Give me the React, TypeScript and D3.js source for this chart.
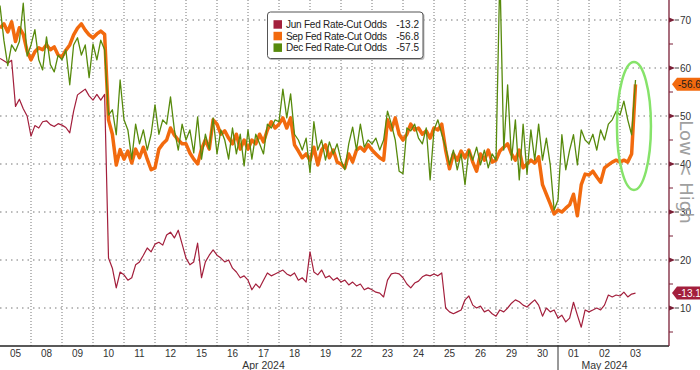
import React from 'react';
import * as d3 from 'd3';

const dayLabels = ['05', '08', '09', '10', '11', '12', '15', '16', '17', '18', '19', '22', '23', '24', '25', '26', '29', '30', '01', '02', '03'];
const monthLabels = ['Apr 2024', 'May 2024'];
const monthFirstDay = [0, 18];
const monthLastDay = [17, 21];
const stepsPerDay = 8;

const junValues = [
  62.0, 61.5, 61.0, 61.6, 52.0, 53.5, 51.5, 50.0,
  45.8, 48.0, 47.5, 48.8, 49.0, 48.2, 47.8, 48.4,
  48.1, 47.6, 46.5, 51.0, 54.4, 55.0, 55.6, 54.2,
  53.3, 54.5, 53.3, 54.5, 20.4, 18.3, 14.2, 17.5,
  16.9, 15.8, 16.3, 19.0, 19.6, 21.0, 22.5, 21.7,
  23.3, 23.7, 23.1, 25.2, 25.8, 24.6, 26.2, 23.3,
  20.4, 19.0, 19.6, 23.5, 16.3, 19.6, 21.0, 22.1,
  21.0, 20.4, 19.6, 20.0, 18.3, 17.5, 16.3, 16.7,
  15.8, 13.8, 15.0, 14.2, 15.8, 17.3, 16.7, 17.1,
  17.5, 17.9, 17.1, 16.7, 17.3, 15.8, 16.3, 15.4,
  21.7, 17.5, 16.9, 17.9, 16.3, 16.7, 15.8, 16.3,
  15.4, 15.8, 14.8, 15.4, 14.6, 15.0, 13.8, 14.2,
  13.8, 13.3, 13.1, 12.3, 15.8, 17.1, 17.3, 17.1,
  16.3, 15.0, 14.2, 15.2, 15.6, 16.5, 16.9, 16.7,
  17.1, 16.7, 17.3, 10.0, 9.2, 8.8, 9.2, 9.6,
  11.7, 12.5, 10.6, 10.0, 10.4, 9.2, 9.6, 8.8,
  8.3, 9.6, 9.2, 10.0, 11.0, 11.7, 11.3, 10.6,
  10.2, 11.0, 11.7, 10.6, 8.3, 10.0, 9.2, 9.6,
  7.9, 8.5, 7.1, 7.9, 11.2, 8.5, 6.0, 9.6,
  9.2, 9.6, 10.0, 9.6, 10.6, 12.7, 12.3, 12.7,
  12.5, 13.3, 12.3, 12.9, 13.1,
];

const sepValues = [
  68.3, 69.2, 67.5, 69.6, 65.5, 68.4, 67.0, 63.5,
  61.7, 63.4, 64.2, 63.8, 64.8, 63.8, 64.4, 62.7,
  62.3, 63.7, 64.8, 66.9, 68.3, 69.2, 67.9, 66.9,
  66.3, 67.1, 67.7, 67.0, 49.2, 46.2, 39.8, 43.0,
  41.0, 42.7, 40.2, 43.1, 41.3, 43.5, 41.0, 38.8,
  39.2, 43.1, 44.2, 45.0, 47.5, 46.0, 45.0, 44.2,
  44.2, 42.3, 41.0, 40.0, 43.1, 45.0, 43.1, 49.2,
  48.3, 46.2, 46.9, 45.4, 44.2, 46.2, 43.1, 45.0,
  43.1, 45.0, 44.2, 46.2, 44.6, 47.1, 48.8, 47.5,
  48.3, 49.6, 47.5, 49.6, 44.0, 42.7, 41.3, 42.1,
  40.8, 43.5, 39.8, 42.9, 44.0, 41.3, 42.9, 40.4,
  40.0, 39.2, 42.1, 40.4, 42.9, 43.5, 42.7, 44.0,
  42.9, 42.1, 41.3, 40.8, 49.2, 47.1, 49.6, 46.2,
  45.0, 46.2, 48.3, 47.1, 47.5, 46.2, 46.9, 45.4,
  47.5, 47.1, 48.3, 42.9, 39.0, 42.1, 40.8, 42.7,
  41.3, 42.9, 40.4, 38.5, 42.1, 40.8, 42.9, 40.4,
  40.8, 42.7, 43.5, 44.2, 42.1, 40.8, 42.9, 39.2,
  40.0, 40.8, 40.2, 41.5, 35.7, 33.7, 31.7, 29.6,
  30.4, 30.0, 30.8, 31.5, 33.7, 29.2, 35.7, 37.9,
  37.7, 38.5, 37.3, 36.2, 39.2, 39.8, 40.4, 40.8,
  40.4, 40.8, 40.4, 42.1, 56.6,
];

const decValues = [
  73.0, 65.8, 60.5, 64.8, 63.5, 65.5, 73.5, 62.5,
  64.8, 68.0, 61.7, 59.6, 66.5, 60.7, 59.2, 62.7,
  61.7, 63.8, 56.5, 64.8, 66.3, 62.7, 64.8, 58.0,
  65.0, 61.7, 65.8, 63.8, 50.2, 51.3, 46.1, 57.5,
  49.2, 47.1, 41.0, 48.3, 44.2, 47.1, 42.9, 46.2,
  52.3, 46.2, 49.2, 48.3, 54.0, 47.1, 42.9, 48.3,
  45.0, 47.1, 42.3, 49.8, 41.0, 46.2, 43.1, 49.6,
  42.1, 47.1, 45.0, 41.0, 47.5, 42.1, 46.2, 39.6,
  47.1, 41.0, 46.2, 44.2, 42.1, 48.3, 47.5, 49.2,
  48.8, 55.6, 49.6, 54.6, 46.2, 45.0, 42.9, 45.4,
  38.2, 48.8, 42.9, 45.0, 40.8, 44.6, 42.1, 44.2,
  40.8, 38.8, 44.2, 47.7, 42.9, 48.3, 43.5, 45.0,
  44.2, 45.4, 42.9, 45.0, 51.0, 48.3, 45.0, 38.5,
  38.0, 47.5, 46.9, 48.3, 45.4, 44.2, 47.5, 36.7,
  47.1, 49.2, 46.2, 43.5, 39.8, 42.9, 38.8, 42.1,
  35.7, 42.9, 40.8, 43.5, 39.8, 42.9, 39.2, 42.1,
  40.8, 80.0, 42.9, 56.5, 40.8, 49.2, 36.7, 48.3,
  37.9, 47.1, 40.8, 48.3, 40.8, 45.4, 39.8, 30.4,
  32.5, 46.1, 38.8, 42.9, 46.1, 39.8, 47.1, 45.0,
  44.2, 46.2, 42.9, 47.1, 45.0, 48.3, 49.2, 51.0,
  50.2, 53.1, 49.2, 46.1, 57.5,
];

const legendNames = ['Jun Fed Rate-Cut Odds', 'Sep Fed Rate-Cut Odds', 'Dec Fed Rate-Cut Odds'];
const legendValues = ['-13.2', '-56.8', '-57.5'];
const yTicks = [10, 20, 30, 40, 50, 60, 70];
const yMinorTicks = [5, 15, 25, 35, 45, 55, 65];
const lastSep = 56.6;
const lastJun = 13.1;

const JUN = '#a31f3c';
const SEP = '#f26a0e';
const DEC = '#578a0c';
const FONT = '"Liberation Sans", Arial, sans-serif';

export default function App() {
  const W = 700, H = 370;
  const right = 669, bottom = 346;
  const x = d3.scaleLinear().domain([0, 21]).range([0, 651]);
  const y = d3.scaleLinear().domain([10, 70]).range([308, 20]);
  const line = d3.line<number>().x((_, i) => x(i / stepsPerDay)).y((d) => y(d));
  const gridDays = d3.range(1, dayLabels.length);
  const arrowLabel = (v: number, fill: string, color: string, text: string) => {
    const cy = y(v);
    return (
      <g>
        <path d={`M${right + 3},${cy} L${right + 8},${cy - 6.5} L${W},${cy - 6.5} L${W},${cy + 6.5} L${right + 8},${cy + 6.5} Z`} fill={fill} />
        <text x={right + 9} y={cy + 3.6} fontSize={10} fill={color} fontFamily={FONT}>{text}</text>
      </g>
    );
  };
  return (
    <svg width={W} height={H} style={{ position: 'absolute', left: 0, top: 0, background: '#fff' }}>
      <defs>
        <clipPath id="plot"><rect x={0} y={0} width={right} height={bottom} /></clipPath>
      </defs>
      <rect x={0} y={0} width={W} height={H} fill="#fff" />
      {yTicks.map((t) => (
        <line key={'h' + t} x1={0} x2={right} y1={y(t)} y2={y(t)} stroke="#777" strokeWidth={1} strokeDasharray="1.5,4" />
      ))}
      {gridDays.map((d) => (
        <line key={'v' + d} x1={x(d)} x2={x(d)} y1={0} y2={bottom} stroke="#777" strokeWidth={1} strokeDasharray="1,2" />
      ))}
      <g clipPath="url(#plot)" fill="none" strokeLinejoin="round">
        <path d={line(junValues) || ''} stroke={JUN} strokeWidth={1.2} />
        <path d={line(sepValues) || ''} stroke={SEP} strokeWidth={3.5} />
        <path d={line(decValues) || ''} stroke={DEC} strokeWidth={1.3} />
      </g>
      <line x1={0} x2={right} y1={bottom} y2={bottom} stroke="#222" strokeWidth={1.5} />
      {dayLabels.map((l, i) => (
        <text key={'d' + i} x={x(i + 0.5)} y={357} fontSize={10} fill="#333" textAnchor="middle" fontFamily={FONT}>{l}</text>
      ))}
      {monthLabels.map((m, i) => (
        <text key={m} x={x((monthFirstDay[i] + monthLastDay[i]) / 2)} y={369} fontSize={10.5} fill="#333" textAnchor="middle" fontFamily={FONT}>{m}</text>
      ))}
      <line x1={x(monthFirstDay[1])} x2={x(monthFirstDay[1])} y1={bottom} y2={H} stroke="#333" strokeWidth={1} />
      <line x1={right} x2={right} y1={0} y2={bottom} stroke="#7a1f36" strokeWidth={1.3} />
      {yMinorTicks.map((t) => (
        <line key={'m' + t} x1={right} x2={right + 4} y1={y(t)} y2={y(t)} stroke="#7a1f36" strokeWidth={1} />
      ))}
      {yTicks.map((t) => (
        <g key={'t' + t}>
          <path d={`M${right},${y(t) - 2.5} L${right + 6},${y(t)} L${right},${y(t) + 2.5} Z`} fill="#7a1f36" />
          <line x1={right + 6} x2={right + 10} y1={y(t)} y2={y(t)} stroke="#444" strokeWidth={1} />
          <text x={right + 11} y={y(t) + 3.6} fontSize={10} fill="#333" fontFamily={FONT}>{t}</text>
        </g>
      ))}
      <text transform={`translate(680,172) rotate(90)`} fontSize={18} fill="#a0a0a0" textAnchor="middle" fontFamily='"DejaVu Sans", sans-serif'>Low &lt; High</text>
      {arrowLabel(lastSep, SEP, '#1a1a1a', '-' + lastSep.toFixed(1))}
      {arrowLabel(lastJun, JUN, '#fff', '-' + lastJun.toFixed(1))}
      <ellipse cx={x(20.45)} cy={126} rx={17} ry={64} fill="none" stroke="#86e36a" strokeWidth={2.5} />
      <g>
        <rect x={268.5} y={13} width={156} height={47} rx={3} fill="#bbb" />
        <rect x={267.5} y={12} width={155.5} height={46.5} rx={3} fill="#fff" stroke="#555" strokeWidth={1} />
        {legendNames.map((n, i) => {
          const cy = 24.5 + i * 11.6;
          const c = [JUN, SEP, DEC][i];
          return (
            <g key={n}>
              <rect x={273.5} y={cy - 4.3} width={8.5} height={8.5} fill={c} />
              <text x={286} y={cy + 3.6} fontSize={10} textLength={101} lengthAdjust="spacing" fill="#222" fontFamily={FONT}>{n}</text>
              <text x={419} y={cy + 3.6} fontSize={10} fill="#222" textAnchor="end" fontFamily={FONT}>{legendValues[i]}</text>
            </g>
          );
        })}
      </g>
    </svg>
  );
}
